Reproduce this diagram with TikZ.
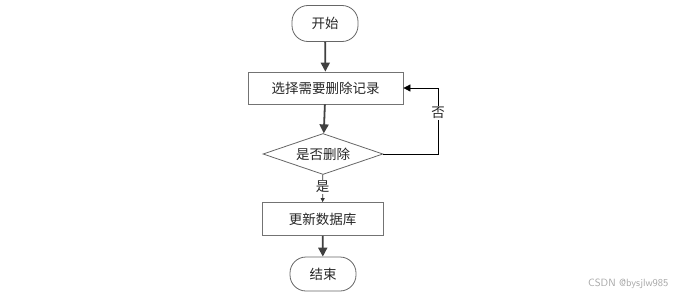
\documentclass[tikz,border=0pt]{standalone}
\usepackage{fontspec}
\newfontfamily\cjk{Noto Sans CJK SC}
\usetikzlibrary{arrows.meta,shapes.geometric}
\begin{document}
\begin{tikzpicture}[x=1pt,y=-1pt,
  every node/.style={font=\cjk\fontsize{13.5}{15}\selectfont, text=black!85},
  term/.style={draw=black!60, line width=0.8pt, rounded corners=16pt, minimum width=66pt, minimum height=36pt, inner sep=0pt},
  proc/.style={draw=black!55, line width=0.8pt, minimum width=155pt, minimum height=32pt, inner sep=0pt},
  dec/.style={draw=black!60, line width=0.8pt, diamond, aspect=3, minimum width=120pt, minimum height=41pt, inner sep=0pt},
  flow/.style={draw=black!75, line width=1.8pt, -{Triangle[length=9pt,width=9pt]}},
  thin/.style={draw=black, line width=0.8pt, -{Triangle[length=7pt,width=7pt]}},
  lab/.style={fill=white, inner sep=1pt}]
\useasboundingbox (0,0) rectangle (680,297);
\node[term] (start) at (325,23.5) {开始};
\node[proc] (sel) at (325.5,88) {选择需要删除记录};
\node[dec] (q) at (323,154) {是否删除};
\node[proc, minimum width=121pt, minimum height=33pt] (upd) at (322.5,219) {更新数据库};
\node[term, minimum height=34pt] (end) at (323,274) {结束};
\coordinate (c1) at (438,154);
\coordinate (c2) at (438,88);
\draw[flow] (start) -- (sel);
\draw[flow] (sel) -- (q);
\draw[line width=0.8pt, draw=black!80, -{Triangle[length=4pt,width=4pt]}] (q) -- node[lab, pos=0.45] (yes) {是} (upd);
\draw[flow] (upd) -- (end);
\draw[thin] (q.east) -- (c1) -- node[lab, pos=0.62, rotate=0] (no) {否} (c2) -- (sel.east);
\node[font=\sffamily\fontsize{10.5}{12}\selectfont, text=black!35, anchor=east] (wm) at (672,284) {CSDN @bysjlw985};
\end{tikzpicture}
\end{document}
